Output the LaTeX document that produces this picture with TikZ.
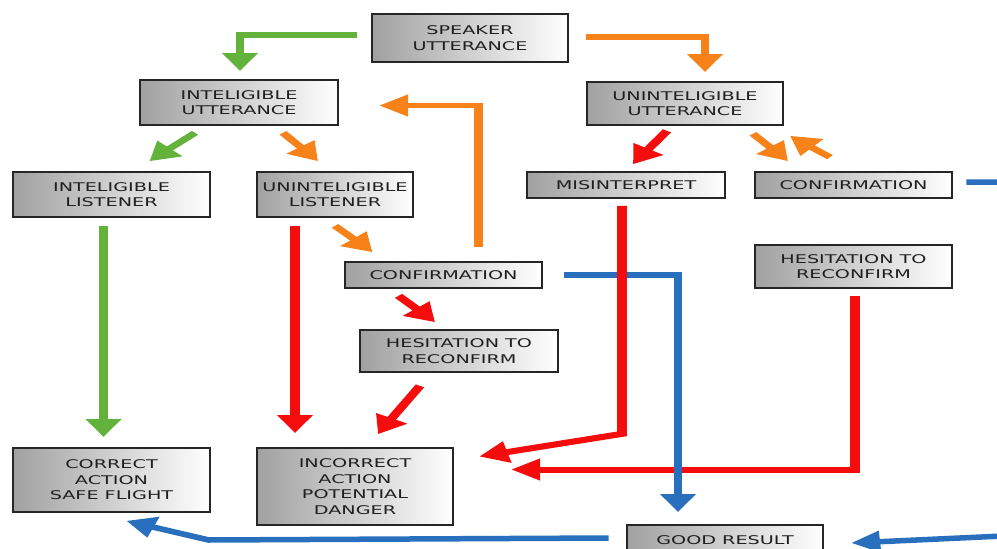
\documentclass[tikz,border=0pt]{standalone}
\usepackage{fontspec}
\newfontfamily\boxfont{DejaVu Sans}
\usetikzlibrary{arrows.meta}
\definecolor{cgreen}{RGB}{98,178,60}
\definecolor{corange}{RGB}{247,130,25}
\definecolor{cred}{RGB}{245,12,12}
\definecolor{cblue}{RGB}{40,112,190}
\tikzset{
  box/.style={draw=black!85, line width=1.7pt, left color=black!37, right color=white,
    inner sep=0pt, align=center, text=black!88,
    font=\boxfont\fontsize{12}{15.5}\selectfont},
  arr/.style={line width=5.5pt, -{Triangle[length=18pt,width=21pt]}},
  garr/.style={arr, draw=cgreen},
  oarr/.style={arr, draw=corange},
  rarr/.style={arr, draw=cred, line width=6pt},
  barr/.style={arr, draw=cblue},
}
\begin{document}
\begin{tikzpicture}[x=1pt,y=-1pt]
\path[use as bounding box] (0,0) rectangle (997,549);
\clip (0,0) rectangle (997,549);
\begin{scope}[transform canvas={xscale=1.6}, x=0.625pt]
% nodes
\node[box, minimum width=122.5pt, minimum height=48pt] (speaker) at (470,38) {SPEAKER\\UTTERANCE};
\node[box, minimum width=123.75pt, minimum height=45pt] (iu) at (239,102.5) {INTELIGIBLE\\UTTERANCE};
\node[box, minimum width=122.5pt, minimum height=43pt] (uu) at (685,103.5) {UNINTELIGIBLE\\UTTERANCE};
\node[box, minimum width=123.1pt, minimum height=45pt] (il) at (111.5,194.5) {INTELIGIBLE\\LISTENER};
\node[box, minimum width=97.5pt, minimum height=45pt] (ul) at (335,194.5) {UNINTELIGIBLE\\LISTENER};
\node[box, minimum width=123.75pt, minimum height=26pt] (mis) at (626,185) {MISINTERPRET};
\node[box, minimum width=123.1pt, minimum height=26pt] (conf2) at (853.5,185) {CONFIRMATION};
\node[box, minimum width=123.1pt, minimum height=26pt] (conf1) at (443.5,275) {CONFIRMATION};
\node[box, minimum width=123.75pt, minimum height=42pt] (hes1) at (459,351) {HESITATION TO\\RECONFIRM};
\node[box, minimum width=123.1pt, minimum height=43pt] (hes2) at (853.5,266.5) {HESITATION TO\\RECONFIRM};
\node[box, minimum width=123.1pt, minimum height=64pt] (correct) at (111.5,480) {CORRECT\\ACTION\\SAFE FLIGHT};
\node[box, minimum width=122.5pt, minimum height=77pt] (incorrect) at (355,486.5) {INCORRECT\\ACTION\\POTENTIAL\\DANGER};
\node[box, minimum width=122.5pt, minimum height=30pt] (good) at (725,540) {GOOD RESULT};
% green
\draw[garr] ([shift={(-14,-3)}]speaker.west) -| ([shift={(1,-8)}]iu.north);
\draw[garr] ([shift={(-44,7)}]iu.south) -- ([shift={(38,-10)}]il.north);
\draw[garr] ([shift={(-8,8)}]il.south) -- ([shift={(-8,-10)}]correct.north);
% orange
\draw[oarr] ([shift={(17,-1)}]speaker.east) -| ([shift={(20,-9)}]uu.north);
\draw[oarr] ([shift={(44,7)}]iu.south) -- ([shift={(-17,-10)}]ul.north);
\draw[oarr] ([shift={(35,-14)}]conf1.north) |- ([shift={(40,3)}]iu.east);
\draw[oarr] ([shift={(0,8)}]ul.south) -- ([shift={(-71,-9)}]conf1.north);
\draw[oarr] ([shift={(68,8)}]uu.south) -- ([shift={(-65.5,-10)}]conf2.north);
\draw[oarr] ([shift={(-23.5,-14)}]conf2.north) -- ([shift={(105,10)}]uu.south);
% red (under blue)
\draw[rarr] ([shift={(-40,8)}]ul.south) -- ([shift={(-60,-14)}]incorrect.north);
\draw[rarr] ([shift={(-45,7)}]conf1.south) -- ([shift={(-24,-7)}]hes1.north);
\draw[rarr] ([shift={(-39,13)}]hes1.south) -- ([shift={(23,-13)}]incorrect.north);
\draw[rarr] ([shift={(-18,5)}]uu.south) -- ([shift={(7,-7)}]mis.north);
\draw[rarr] ([shift={(1.5,7)}]hes2.south) |- ([shift={(57,-17)}]incorrect.east);
% blue
\draw[barr] ([shift={(21,0)}]conf1.east) -| ([shift={(-47,-12)}]good.north);
\draw[barr] ([shift={(13,-3)}]conf2.east) -- ++(37,0) -- ++(0,354) -- ([shift={(27,3)}]good.east);
\draw[barr] ([shift={(-17,-2)}]good.west) -- ++(-400,2) -- ([shift={(15,8)}]correct.south);
% red over blue
\draw[rarr] ([shift={(-4,7)}]mis.south) -- ++(0,228) -- ([shift={(25,-30)}]incorrect.east);
\end{scope}
\end{tikzpicture}
\end{document}
